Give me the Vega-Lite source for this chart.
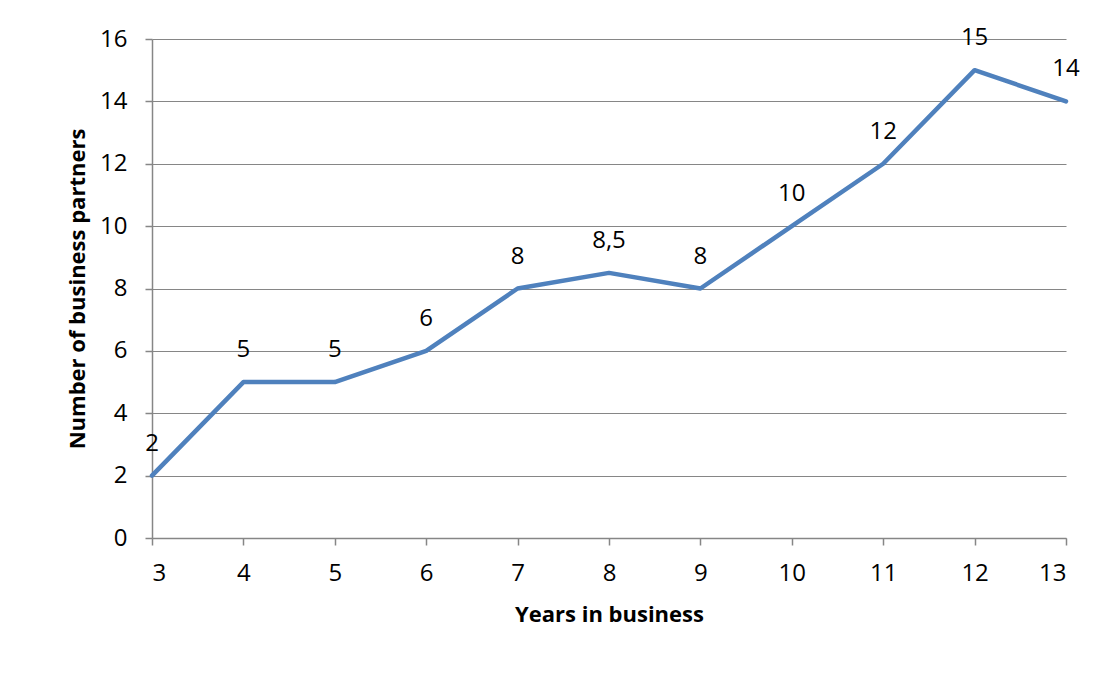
{
  "$schema": "https://vega.github.io/schema/vega-lite/v6.json",
  "width": 914,
  "height": 499,
  "autosize": {"type": "none"},
  "padding": {"left": 152, "top": 39, "right": 35, "bottom": 139},
  "background": "white",
  "config": {
    "font": "Open Sans",
    "view": {"stroke": null},
    "axis": {
      "labelFont": "Open Sans",
      "labelFontSize": 24,
      "labelColor": "#000000",
      "titleFont": "Open Sans",
      "titleFontSize": 22,
      "titleFontWeight": "bold",
      "titleColor": "#000000",
      "domainColor": "#868686",
      "domainWidth": 1.5,
      "tickColor": "#868686",
      "tickWidth": 1.5,
      "tickSize": 7,
      "gridColor": "#868686",
      "gridWidth": 1.2
    }
  },
  "data": {
    "values": [
      {"years": 3, "partners": 2, "label": "2"},
      {"years": 4, "partners": 5, "label": "5"},
      {"years": 5, "partners": 5, "label": "5"},
      {"years": 6, "partners": 6, "label": "6"},
      {"years": 7, "partners": 8, "label": "8"},
      {"years": 8, "partners": 8.5, "label": "8,5"},
      {"years": 9, "partners": 8, "label": "8"},
      {"years": 10, "partners": 10, "label": "10"},
      {"years": 11, "partners": 12, "label": "12"},
      {"years": 12, "partners": 15, "label": "15"},
      {"years": 13, "partners": 14, "label": "14"}
    ]
  },
  "encoding": {
    "x": {
      "field": "years",
      "type": "quantitative",
      "scale": {"domain": [3, 13], "nice": false, "zero": false},
      "axis": {
        "title": "Years in business",
        "values": [3, 4, 5, 6, 7, 8, 9, 10, 11, 12, 13],
        "grid": false,
        "labelPadding": 16,
        "titlePadding": 19
      }
    },
    "y": {
      "field": "partners",
      "type": "quantitative",
      "scale": {"domain": [0, 16], "nice": false},
      "axis": {
        "title": "Number of business partners",
        "values": [0, 2, 4, 6, 8, 10, 12, 14, 16],
        "grid": true,
        "labelPadding": 18,
        "titlePadding": 10
      }
    }
  },
  "layer": [
    {
      "mark": {"type": "line", "color": "#4F81BD", "strokeWidth": 4.5, "strokeJoin": "round", "strokeCap": "round", "clip": false}
    },
    {
      "mark": {"type": "text", "fontSize": 24, "font": "Open Sans", "color": "#000000", "dy": -32, "baseline": "middle", "align": "center"},
      "encoding": {"text": {"field": "label"}}
    }
  ]
}
